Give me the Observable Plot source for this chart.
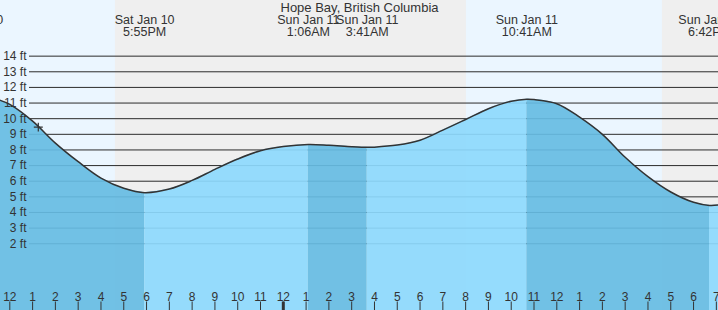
<!DOCTYPE html>
<html>
<head>
<meta charset="utf-8">
<script src="https://cdn.jsdelivr.net/npm/d3@7"></script>
<script src="https://cdn.jsdelivr.net/npm/@observablehq/plot@0.6"></script>
<style>
  html, body { margin: 0; padding: 0; background: #fff; overflow: hidden; }
  svg { overflow: hidden; display: block; }
</style>
</head>
<body>
<div id="chart"></div>
<script>
// ---- Data ----
const chartTitle = "Hope Bay, British Columbia";

// tide height curve (local time, feet)
const tideTimes = [
  "2026-01-10T10:24", "2026-01-10T11:35", "2026-01-10T12:00", "2026-01-10T13:00",
  "2026-01-10T14:00", "2026-01-10T15:00", "2026-01-10T16:00", "2026-01-10T17:00",
  "2026-01-10T17:55", "2026-01-10T19:00", "2026-01-10T20:00", "2026-01-10T21:00",
  "2026-01-10T22:00", "2026-01-10T23:00", "2026-01-11T00:00", "2026-01-11T01:06",
  "2026-01-11T02:00", "2026-01-11T03:00", "2026-01-11T03:41", "2026-01-11T04:00",
  "2026-01-11T05:00", "2026-01-11T06:00", "2026-01-11T07:00", "2026-01-11T08:00",
  "2026-01-11T09:00", "2026-01-11T10:00", "2026-01-11T10:41", "2026-01-11T11:00",
  "2026-01-11T12:00", "2026-01-11T13:00", "2026-01-11T14:00", "2026-01-11T15:00",
  "2026-01-11T16:00", "2026-01-11T17:00", "2026-01-11T18:00", "2026-01-11T18:42",
  "2026-01-11T19:06"
];
const tideFeet = [
  11.6, 11.17, 10.91, 9.84,
  8.44, 7.25, 6.2, 5.55,
  5.27, 5.5, 6.05, 6.76,
  7.42, 7.95, 8.22, 8.35,
  8.3, 8.21, 8.17, 8.18,
  8.31, 8.62, 9.27, 9.95,
  10.64, 11.12, 11.25, 11.22,
  10.96, 10.1, 9.0, 7.53,
  6.29, 5.31, 4.65, 4.45,
  4.48
];

// high / low tide events
const extremeTimes = ["2026-01-10T10:24", "2026-01-10T17:55", "2026-01-11T01:06",
                      "2026-01-11T03:41", "2026-01-11T10:41", "2026-01-11T18:42"];
const extremeKinds = ["High", "Low", "High", "Low", "High", "Low"];
const extremeDays = ["Sat Jan 10", "Sat Jan 10", "Sun Jan 11", "Sun Jan 11", "Sun Jan 11", "Sun Jan 11"];
const extremeClocks = ["10:24AM", "5:55PM", "1:06AM", "3:41AM", "10:41AM", "6:42PM"];

// night (sunset -> sunrise)
const nightStarts = ["2026-01-10T16:38", "2026-01-11T16:38"];
const nightEnds = ["2026-01-11T08:02", "2026-01-12T08:02"];

// current time marker
const nowTime = "2026-01-10T13:15";
const nowFeet = 9.46;

// axes
const yTicks = [2, 3, 4, 5, 6, 7, 8, 9, 10, 11, 12, 13, 14];
const xStart = "2026-01-10T11:35:30";
const xEnd = "2026-01-11T19:05:40";
const boldTick = "2026-01-11T00:00";
const yDomain = [-2.27, 17.56];

// ---- Build tables ----
const parse = s => new Date(s);
const tide = tideTimes.map((t, i) => ({time: parse(t), ft: tideFeet[i]}));
const ext = extremeTimes.map((t, i) => ({
  time: parse(t), kind: extremeKinds[i], label: extremeDays[i] + "\n" + extremeClocks[i]
}));
const segData = [];
for (let k = 0; k <= ext.length; k++) {
  const start = k === 0 ? -Infinity : +ext[k - 1].time;
  const end = k === ext.length ? Infinity : +ext[k].time;
  const after = k > 0 ? ext[k - 1].kind : (ext[0].kind === "High" ? "Low" : "High");
  const falling = after === "High";
  for (const d of tide) {
    if (+d.time >= start && +d.time <= end) segData.push({...d, seg: k, falling});
  }
}
const nights = nightStarts.map((s, i) => ({start: parse(s), end: parse(nightEnds[i])}));
const domain = [parse(xStart), parse(xEnd)];
const hourTicks = d3.timeHour.range(domain[0], domain[1]);
const fmtHour = d3.timeFormat("%-I");

const DARK = "#66bce3", LIGHT = "#8dd9fd", INK = "#333";
const CURVE = "catmull-rom";

const chart = Plot.plot({
  width: 718,
  height: 310,
  margin: 0,
  x: {type: "time", domain, axis: null},
  y: {domain: yDomain, axis: null},
  color: {type: "identity"},
  style: {background: "#ebf6ff", fontFamily: "'Liberation Sans', Arial, sans-serif", color: INK},
  marks: [
    Plot.rect(nights, {x1: "start", x2: "end", fill: "#efefef", clip: true}),
    Plot.ruleY(yTicks, {y: d => d, insetLeft: 29, stroke: "#2b2b2b", strokeWidth: 1}),
    Plot.areaY(segData, {
      x: "time", y1: yDomain[0], y2: "ft", z: "seg",
      fill: d => d.falling ? DARK : LIGHT, fillOpacity: 0.92,
      curve: CURVE, clip: true
    }),
    Plot.line(tide, {x: "time", y: "ft", curve: CURVE, stroke: "#333", strokeWidth: 1.5, clip: true}),
    Plot.dot([{time: parse(nowTime), ft: nowFeet}], {x: "time", y: "ft", symbol: "plus", r: 3, stroke: "#333", strokeWidth: 1.2}),
    Plot.text(yTicks, {y: d => d, text: d => d + " ft", frameAnchor: "left", dx: 26, textAnchor: "end", fontSize: 12, fill: INK}),
    Plot.ruleX(hourTicks, {x: d => d, insetTop: 301.5, stroke: INK, strokeWidth: 1}),
    Plot.ruleX([parse(boldTick)], {x: d => d, insetTop: 301.5, stroke: INK, strokeWidth: 3}),
    Plot.text(hourTicks, {x: d => d, text: d => fmtHour(d), frameAnchor: "bottom", lineAnchor: "bottom", dy: -10, fontSize: 12, fill: INK}),
    Plot.text(ext, {x: "time", text: "label", frameAnchor: "top", lineAnchor: "top", dy: 15, fontSize: 12.5, lineHeight: 0.96, fill: INK}),
    Plot.text([chartTitle], {text: d => d, frameAnchor: "top", lineAnchor: "top", dy: 2.5, fontSize: 13, fill: INK})
  ]
});
document.getElementById("chart").append(chart);
</script>
</body>
</html>
